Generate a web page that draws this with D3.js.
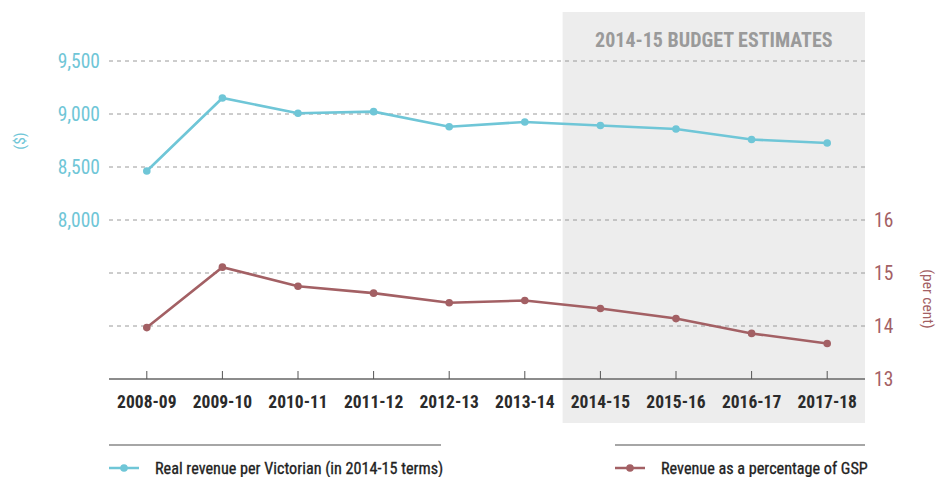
<!DOCTYPE html>
<html><head><meta charset="utf-8">
<script src="https://cdn.jsdelivr.net/npm/d3@7"></script>
<style>
body{margin:0;background:#fff;}
svg{display:block;font-family:"Roboto Condensed",Roboto,sans-serif;}
</style></head>
<body><svg id="c" width="938" height="477"></svg>
<script>
const years = ["2008-09","2009-10","2010-11","2011-12","2012-13","2013-14","2014-15","2015-16","2016-17","2017-18"];
const revenuePerVictorian = [8462,9151,9007,9022,8880,8925,8892,8858,8759,8726];
const revenuePctGSP = [13.97,15.11,14.75,14.62,14.44,14.48,14.33,14.14,13.86,13.67];
const leftTicks = [8000,8500,9000,9500];
const rightTicks = [13,14,15,16];
const estimateStart = "2014-15";
const seriesNames = ["Real revenue per Victorian (in 2014-15 terms)","Revenue as a percentage of GSP"];

const FONT = "'Roboto Condensed',Roboto,sans-serif";
const blue = "#6fc6d7", red = "#a36064";
const svg = d3.select("#c");
const x = d3.scaleBand().domain(years).range([109,865]);
const cx = d => x(d) + x.bandwidth()/2;
const yL = d3.scaleLinear().domain([6500,9500]).range([379,61]);
const yR = d3.scaleLinear().domain([13,19]).range([379,61]);

// budget estimates shading
const bx = x(estimateStart);
svg.append("rect").attr("x",bx).attr("y",12).attr("width",865-bx).attr("height",411).attr("fill","#ededed");
svg.append("text").attr("x",(bx+865)/2).attr("y",47).attr("text-anchor","middle")
  .attr("font-size",20).attr("font-weight","bold").attr("fill","#9a9a9a").text("2014-15 BUDGET ESTIMATES");

// gridlines
const gridVals = [yL(9500),yL(9000),yL(8500),yL(8000),yR(15),yR(14)];
svg.append("g").selectAll("line").data(gridVals).join("line")
  .attr("x1",109).attr("x2",865).attr("y1",d=>d).attr("y2",d=>d)
  .attr("stroke","#9a9a9a").attr("stroke-width",1).attr("stroke-dasharray","4,4");

// left axis labels
svg.append("g").selectAll("text").data(leftTicks).join("text")
  .attr("x",100).attr("y",d=>yL(d)+7).attr("text-anchor","end")
  .attr("font-size",19.5).attr("fill",blue).text(d=>d3.format(",")(d));
svg.append("text").attr("transform","translate(25,141) rotate(-90)").attr("text-anchor","middle")
  .attr("font-size",15.5).attr("fill",blue).text("($)");

// right axis labels
svg.append("g").selectAll("text").data(rightTicks).join("text")
  .attr("x",874).attr("y",d=>yR(d)+7).attr("text-anchor","start")
  .attr("font-size",19.5).attr("fill",red).text(d=>d);
svg.append("text").attr("transform","translate(923,299) rotate(90)").attr("text-anchor","middle")
  .attr("font-size",15.5).attr("fill",red).text("(per cent)");

// x axis
const xa = svg.append("g").attr("transform","translate(0,379)")
  .call(d3.axisBottom(x).tickSizeOuter(0).tickSize(8).tickPadding(6));
xa.select(".domain").attr("stroke","#666").attr("stroke-width",1.5).attr("d","M109,0H865");
xa.selectAll(".tick line").attr("stroke","#555").attr("transform","translate(0,-8)");
xa.selectAll(".tick text").attr("font-size",17.5).attr("font-weight","bold").attr("fill","#2b2b2b")
  .attr("font-family",FONT).attr("dy","0.87em");

// lines
function drawSeries(vals, yS, color){
  const line = d3.line().x((d,i)=>cx(years[i])).y(d=>yS(d));
  svg.append("path").datum(vals).attr("d",line).attr("fill","none").attr("stroke",color).attr("stroke-width",2.6);
  svg.append("g").selectAll("circle").data(vals).join("circle")
    .attr("cx",(d,i)=>cx(years[i])).attr("cy",d=>yS(d)).attr("r",3.8).attr("fill",color);
}
drawSeries(revenuePerVictorian, yL, blue);
drawSeries(revenuePctGSP, yR, red);

// legend
const legend = [
  {name:seriesNames[0], color:blue, x0:109, x1:441},
  {name:seriesNames[1], color:red, x0:615, x1:865}
];
legend.forEach(l=>{
  svg.append("line").attr("x1",l.x0).attr("x2",l.x1).attr("y1",445).attr("y2",445).attr("stroke","#888").attr("stroke-width",1.5);
  svg.append("line").attr("x1",l.x0).attr("x2",l.x0+30).attr("y1",468).attr("y2",468).attr("stroke",l.color).attr("stroke-width",2.5);
  svg.append("circle").attr("cx",l.x0+15).attr("cy",468).attr("r",3.8).attr("fill",l.color);
  svg.append("text").attr("x",l.x0+46).attr("y",474).attr("font-size",16.2).attr("fill","#222")
    .attr("stroke","#222").attr("stroke-width",0.3).text(l.name);
});
</script></body></html>
